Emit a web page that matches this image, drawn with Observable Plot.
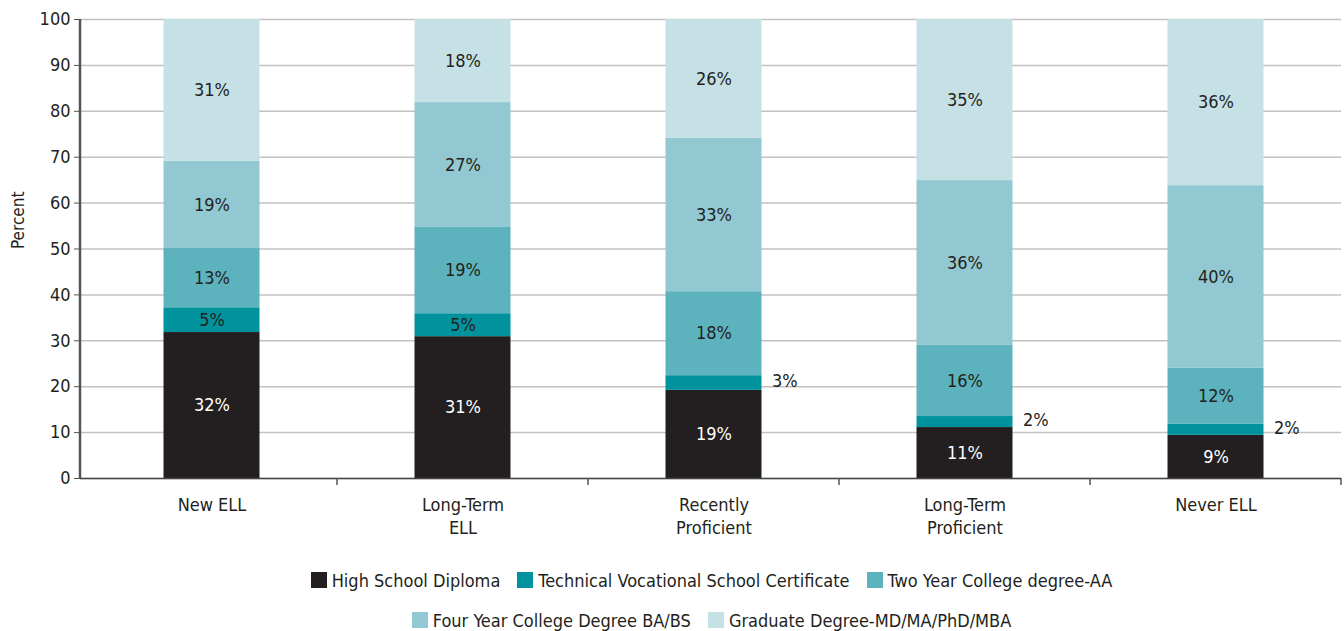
<!DOCTYPE html>
<html>
<head>
<meta charset="utf-8">
<script src="https://cdn.jsdelivr.net/npm/d3@7"></script>
<script src="https://cdn.jsdelivr.net/npm/@observablehq/plot@0.6"></script>
<style>
  body { margin: 0; background: #fff; font-family: "Liberation Sans Narrow", "DejaVu Sans Condensed", sans-serif; }
  #legend { margin-left: 80px; width: 1263px; margin-top: 10px; font-size: 18px; color: #231f20; }
  .row { display: flex; justify-content: center; align-items: center; height: 40px; gap: 17px; }
  .item { display: flex; align-items: center; gap: 5px; }
  .sw { width: 16px; height: 16px; display: inline-block; }
</style>
</head>
<body>
<div id="chart"></div>
<div id="legend"></div>
<script>
const categories = ["New ELL", "Long-Term ELL", "Recently Proficient", "Long-Term Proficient", "Never ELL"];
const xLabels = ["New ELL", "Long-Term\nELL", "Recently\nProficient", "Long-Term\nProficient", "Never ELL"];
const seriesNames = ["High School Diploma", "Technical Vocational School Certificate", "Two Year College degree-AA", "Four Year College Degree BA/BS", "Graduate Degree-MD/MA/PhD/MBA"];
const highSchool = [31.8, 30.9, 19.2, 11.1, 9.4];
const technical  = [5.4, 5.0, 3.2, 2.4, 2.4];
const twoYear    = [12.9, 18.8, 18.3, 15.5, 12.2];
const fourYear   = [19.0, 27.2, 33.4, 35.9, 39.8];
const graduate   = [30.9, 18.1, 25.9, 35.1, 36.2];
const colors = ["#231f20", "#00939d", "#5db3bd", "#92c8d1", "#c5e1e6"];
const yTicks = [0, 10, 20, 30, 40, 50, 60, 70, 80, 90, 100];

const seriesValues = [highSchool, technical, twoYear, fourYear, graduate];
const rows = [];
categories.forEach((c, i) => {
  let acc = 0;
  seriesValues.forEach((vals, s) => {
    const v = vals[i];
    rows.push({cat: c, series: seriesNames[s], s, value: v, y1: acc, y2: acc + v, mid: acc + v / 2,
               label: Math.round(v) + "%"});
    acc += v;
  });
});
const inside = rows.filter(d => d.value >= 4);
const outside = rows.filter(d => d.value < 4);

const font = '"Liberation Sans Narrow", "DejaVu Sans Condensed", sans-serif';

const chart = Plot.plot({
  width: 1344,
  height: 550,
  marginLeft: 80,
  marginRight: 3,
  marginTop: 19,
  marginBottom: 72,
  style: {fontFamily: font, fontSize: "18px", color: "#231f20", background: "#fff"},
  x: {domain: categories, padding: 0, label: null, range: [86, 1341]},
  y: {domain: [0, 100], label: null},
  color: {domain: seriesNames, range: colors},
  marks: [
    Plot.gridY(yTicks, {stroke: "#c2c2c2", strokeOpacity: 1, strokeWidth: 1.5}),
    Plot.barY(rows, {x: "cat", y1: "y1", y2: "y2", fill: "series", insetLeft: 77.5, insetRight: 77.5}),
    Plot.text(inside, {x: "cat", y: "mid", text: "label", fill: d => d.s === 0 ? "#ffffff" : "#231f20", fontSize: 18}),
    Plot.text(outside, {x: "cat", y: "mid", text: "label", fill: "#231f20", fontSize: 18, textAnchor: "start", dx: 58, dy: -2}),
    Plot.axisY(yTicks, {tickSize: 6, tickPadding: 4, fontSize: 18, stroke: "#555", label: null}),
    Plot.text(["Percent"], {frameAnchor: "left", dx: -62, rotate: -90, fontSize: 17, fill: "#231f20"}),
    Plot.axisX({tickSize: 0, tickPadding: 17, fontSize: 18, lineHeight: 1.25,
                tickFormat: d => xLabels[categories.indexOf(d)], label: null}),
    Plot.ruleY([0], {stroke: "#444", strokeWidth: 1.5})
  ]
});
document.getElementById("chart").appendChild(chart);

// y axis line and category boundary ticks, from the plot's scales
const xs = chart.scale("x");
const ys = chart.scale("y");
const svg = d3.select(chart);
svg.append("line")
  .attr("x1", 80).attr("x2", 80)
  .attr("y1", ys.apply(0)).attr("y2", ys.apply(100))
  .attr("stroke", "#555").attr("stroke-width", 2.5);
const bounds = categories.map(c => xs.apply(c) + xs.step);
svg.append("g").selectAll("line").data(bounds).join("line")
  .attr("x1", d => d).attr("x2", d => d)
  .attr("y1", ys.apply(0)).attr("y2", ys.apply(0) + 7)
  .attr("stroke", "#555").attr("stroke-width", 1.5);

// legend
const legend = d3.select("#legend");
const groups = [seriesNames.slice(0, 3), seriesNames.slice(3)];
groups.forEach(g => {
  const r = legend.append("div").attr("class", "row");
  g.forEach(name => {
    const it = r.append("div").attr("class", "item");
    it.append("span").attr("class", "sw").style("background", colors[seriesNames.indexOf(name)]);
    it.append("span").text(name);
  });
});
</script>
</body>
</html>
